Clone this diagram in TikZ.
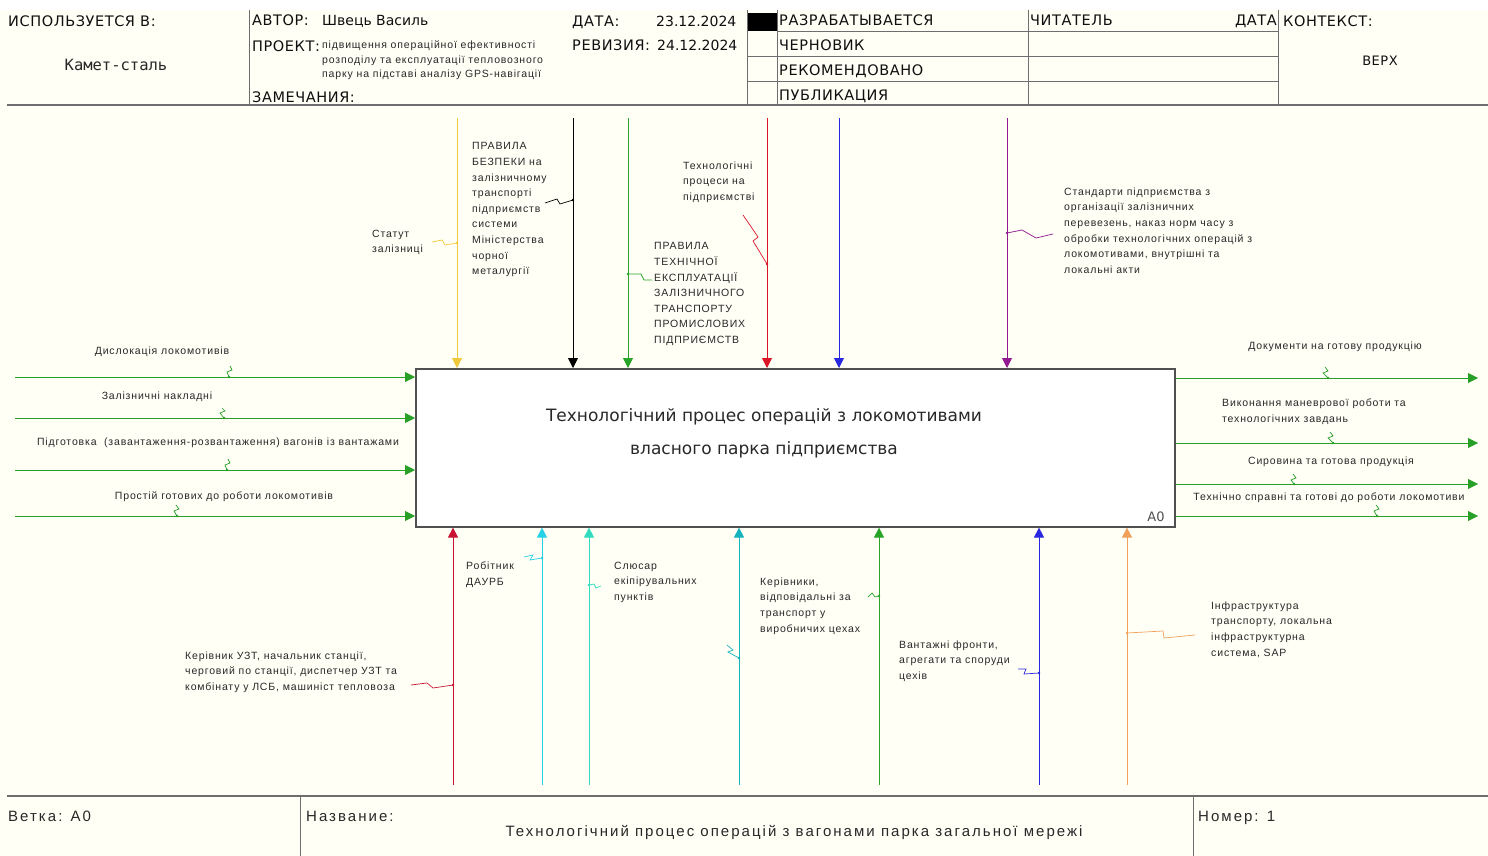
\documentclass[tikz,border=0pt]{standalone}
\usepackage{fontspec}
\setmainfont{Liberation Sans}
\newfontfamily\hdrfont[LetterSpace=4]{DejaVu Sans}
\newfontfamily\plainfont{DejaVu Sans}
\newfontfamily\monofont{DejaVu Sans Mono}
\newfontfamily\lblfont[LetterSpace=8]{Liberation Sans}
\newfontfamily\footfont[LetterSpace=13.5]{Liberation Sans}
\usetikzlibrary{arrows.meta}
\definecolor{cream}{RGB}{255,255,246}
\definecolor{framegray}{RGB}{110,110,110}
\definecolor{boxgray}{RGB}{80,80,80}
\definecolor{txtgray}{RGB}{40,40,40}
\definecolor{hdrblack}{RGB}{15,15,15}
\definecolor{cYellow}{RGB}{240,200,60}
\definecolor{cGreen}{RGB}{40,165,40}
\definecolor{cRed}{RGB}{220,20,40}
\definecolor{cBlue}{RGB}{40,40,225}
\definecolor{cPurple}{RGB}{145,25,145}
\definecolor{cIn}{RGB}{40,160,40}
\definecolor{cCrimson}{RGB}{200,20,50}
\definecolor{cCyan}{RGB}{40,210,230}
\definecolor{cAqua}{RGB}{50,220,190}
\definecolor{cTeal}{RGB}{20,180,190}
\definecolor{cOrange}{RGB}{240,160,90}
\begin{document}
\begin{tikzpicture}[x=1pt,y=-1pt,
  frame/.style={draw=framegray,line width=1pt},
  thickframe/.style={draw=framegray,line width=2pt},
  hdrtxt/.style={font=\hdrfont\fontsize{14.5}{16}\selectfont,anchor=base west,inner sep=0,text=hdrblack},
  plaintxt/.style={font=\plainfont\fontsize{14}{16}\selectfont,anchor=base west,inner sep=0,text=hdrblack},
  smalltxt/.style={font=\lblfont\fontsize{10.5}{14.7}\selectfont,anchor=north west,inner sep=0,align=left,text=txtgray},
  lbltxt/.style={font=\lblfont\fontsize{10.5}{15.6}\selectfont,anchor=north west,inner sep=0,align=left,text=txtgray},
  lblc/.style={font=\lblfont\fontsize{10.5}{15.6}\selectfont,anchor=center,inner sep=0,text=txtgray},
  foottxt/.style={font=\footfont\fontsize{15}{17}\selectfont,anchor=base west,inner sep=0,text=txtgray},
  flow/.style={line width=0.9pt,-{Triangle[width=10pt,length=10pt]}},
  sq/.style={line width=0.7pt},
]
\useasboundingbox (0,0) rectangle (1488,856);
\fill[white] (0,0) rectangle (1488,856);
\fill[cream] (0,10) rectangle (1488,856);

% ---------- header ----------
\draw[thickframe] (7,105.5) -- (1488,105.5);
\draw[frame] (249,10) -- (249,105);
\draw[frame] (747.5,10) -- (747.5,105);
\draw[frame] (777,10) -- (777,105);
\draw[frame] (1028,10) -- (1028,105);
\draw[frame] (1278,10) -- (1278,105);
\draw[frame] (777,32) -- (1278,32);
\draw[frame] (747.5,57) -- (1278,57);
\draw[frame] (747.5,82) -- (1278,82);
\fill[black] (748,13) rectangle (777,31);

\node[hdrtxt] (usedin) at (8,26.5) {ИСПОЛЬЗУЕТСЯ В:};
\node[font=\monofont\fontsize{15.5}{17}\selectfont,inner sep=0,anchor=base,text=txtgray] (usedval) at (116,71) {Камет-сталь};
\node[hdrtxt] (author) at (252,25.5) {АВТОР:};
\node[plaintxt] (authorv) at (322,25.5) {Швець Василь};
\node[hdrtxt] (project) at (252,52) {ПРОЕКТ:};
\node[smalltxt] (projectv) at (322,40.5) {підвищення операційної ефективності\\розподілу та експлуатації тепловозного\\парку на підставі аналізу GPS-навігації};
\node[hdrtxt] (notes) at (252,102.5) {ЗАМЕЧАНИЯ:};
\node[hdrtxt] (date) at (572,27) {ДАТА:};
\node[plaintxt] (datev) at (656,27) {23.12.2024};
\node[hdrtxt] (rev) at (572,51) {РЕВИЗИЯ:};
\node[plaintxt] (revv) at (657,51) {24.12.2024};
\node[hdrtxt] (st1) at (779,26) {РАЗРАБАТЫВАЕТСЯ};
\node[hdrtxt] (st2) at (779,50.5) {ЧЕРНОВИК};
\node[hdrtxt] (st3) at (779,76) {РЕКОМЕНДОВАНО};
\node[hdrtxt] (st4) at (779,100.5) {ПУБЛИКАЦИЯ};
\node[hdrtxt] (reader) at (1030,25.5) {ЧИТАТЕЛЬ};
\node[hdrtxt,anchor=base east] (rdate) at (1277,25.5) {ДАТА};
\node[hdrtxt] (context) at (1283,27) {КОНТЕКСТ:};
\node[hdrtxt,anchor=base,font=\hdrfont\fontsize{13}{15}\selectfont] (top) at (1380,65.5) {ВЕРХ};

% ---------- main box ----------
\node[draw=boxgray,line width=1.6pt,fill=white,minimum width=759pt,minimum height=158pt,inner sep=0,anchor=north west] (box) at (415,368) {};
\node[font=\plainfont\fontsize{17}{33}\selectfont,align=center,inner sep=0,text=txtgray] (boxtxt) at (764,433) {Технологічний процес операцій з локомотивами\\власного парка підприємства};
\node[font=\plainfont\fontsize{13}{15}\selectfont,text=boxgray,inner sep=0] (a0) at (1156,517) {A0};

% ---------- controls (top) ----------
\coordinate (t1) at (457,118);
\coordinate (t2) at (573,118);
\coordinate (t3) at (628,118);
\coordinate (t4) at (767,118);
\coordinate (t5) at (839,118);
\coordinate (t6) at (1007,118);
\draw[flow,cYellow] (t1) -- (t1 |- box.north);
\draw[flow,black] (t2) -- (t2 |- box.north);
\draw[flow,cGreen] (t3) -- (t3 |- box.north);
\draw[flow,cRed] (t4) -- (t4 |- box.north);
\draw[flow,cBlue] (t5) -- (t5 |- box.north);
\draw[flow,cPurple] (t6) -- (t6 |- box.north);

\node[lbltxt] (c1) at (372,229.5) {Статут\\залізниці};
\node[lbltxt] (c2) at (472,142.5) {ПРАВИЛА\\БЕЗПЕКИ на\\залізничному\\транспорті\\підприємств\\системи\\Міністерства\\чорної\\металургії};
\node[lbltxt] (c3) at (683,161.5) {Технологічні\\процеси на\\підприємстві};
\node[lbltxt] (c4) at (654,242.5) {ПРАВИЛА\\ТЕХНІЧНОЇ\\ЕКСПЛУАТАЦІЇ\\ЗАЛІЗНИЧНОГО\\ТРАНСПОРТУ\\ПРОМИСЛОВИХ\\ПІДПРИЄМСТВ};
\node[lbltxt] (c5) at (1064,187.5) {Стандарти підприємства з\\організації залізничних\\перевезень, наказ норм часу з\\обробки технологічних операцій з\\локомотивами, внутрішні та\\локальні акти};

\draw[sq,cYellow] (432,242) -- (442,240) -- (445,245) -- (457,243);
\fill[cYellow] (457,243) circle (1.4);
\draw[sq,black] (545,203) -- (557,199) -- (560,204) -- (573,200);
\fill[black] (573,200) circle (1.4);
\draw[sq,cRed] (743,215) -- (758,237) -- (753,241) -- (767,264);
\fill[cRed] (767,264) circle (1.4);
\draw[sq,cGreen] (628,274) -- (641,274) -- (644,280) -- (652,280);
\fill[cGreen] (628,274) circle (1.4);
\draw[sq,cPurple] (1007,233) -- (1022,230) -- (1036,238) -- (1053,234);
\fill[cPurple] (1007,233) circle (1.4);

% ---------- inputs (left) ----------
\coordinate (i1) at (15,377);
\coordinate (i2) at (15,418);
\coordinate (i3) at (15,470);
\coordinate (i4) at (15,516);
\foreach \n in {i1,i2,i3,i4} \draw[flow,cIn] (\n) -- (\n -| box.west);
\node[lblc] (in1) at (162,352) {Дислокація локомотивів};
\node[lblc] (in2) at (157,397) {Залізничні накладні};
\node[lblc] (in3) at (218,443) {Підготовка\ \ (завантаження-розвантаження) вагонів із вантажами};
\node[lblc] (in4) at (224,497) {Простій готових до роботи локомотивів};
\draw[sq,cIn] (230,366) -- (232,370) -- (227,372) -- (229,377);
\fill[cIn] (229,377) circle (1.4);
\draw[sq,cIn] (222,408) -- (225,411) -- (220,413) -- (224,418);
\fill[cIn] (224,418) circle (1.4);
\draw[sq,cIn] (228,459) -- (230,463) -- (225,465) -- (227,470);
\fill[cIn] (227,470) circle (1.4);
\draw[sq,cIn] (176,505) -- (179,509) -- (174,511) -- (177,516);
\fill[cIn] (177,516) circle (1.4);

% ---------- outputs (right) ----------
\coordinate (o1) at (1478,378);
\coordinate (o2) at (1478,443);
\coordinate (o3) at (1478,484);
\coordinate (o4) at (1478,516);
\foreach \n in {o1,o2,o3,o4} \draw[flow,cIn] (\n -| box.east) -- (\n);
\node[lblc] (out1) at (1335,347) {Документи на готову продукцію};
\node[lbltxt] (out2) at (1222,398.5) {Виконання маневрової роботи та\\технологічних завдань};
\node[lblc] (out3) at (1331,462) {Сировина та готова продукція};
\node[lblc] (out4) at (1329,498) {Технічно справні та готові до роботи локомотиви};
\draw[sq,cIn] (1325,367) -- (1328,371) -- (1323,373) -- (1328,378);
\fill[cIn] (1328,378) circle (1.4);
\draw[sq,cIn] (1330,432) -- (1333,436) -- (1328,438) -- (1333,443);
\fill[cIn] (1333,443) circle (1.4);
\draw[sq,cIn] (1293,474) -- (1296,478) -- (1291,480) -- (1294,484);
\fill[cIn] (1294,484) circle (1.4);
\draw[sq,cIn] (1376,505) -- (1379,509) -- (1374,511) -- (1377,516);
\fill[cIn] (1377,516) circle (1.4);

% ---------- mechanisms (bottom) ----------
\coordinate (m1) at (453,785);
\coordinate (m2) at (542,785);
\coordinate (m3) at (589,785);
\coordinate (m4) at (739,785);
\coordinate (m5) at (879,785);
\coordinate (m6) at (1039,785);
\coordinate (m7) at (1127,785);
\draw[flow,cCrimson] (m1) -- (m1 |- box.south);
\draw[flow,cCyan] (m2) -- (m2 |- box.south);
\draw[flow,cAqua] (m3) -- (m3 |- box.south);
\draw[flow,cTeal] (m4) -- (m4 |- box.south);
\draw[flow,cGreen] (m5) -- (m5 |- box.south);
\draw[flow,cBlue] (m6) -- (m6 |- box.south);
\draw[flow,cOrange] (m7) -- (m7 |- box.south);

\node[lbltxt] (me1) at (185,651.5) {Керівник УЗТ, начальник станції,\\черговий по станції, диспетчер УЗТ та\\комбінату у ЛСБ, машиніст тепловоза};
\node[lbltxt] (me2) at (466,561.5) {Робітник\\ДАУРБ};
\node[lbltxt] (me3) at (614,561.5) {Слюсар\\екіпірувальних\\пунктів};
\node[lbltxt] (me4) at (760,577.5) {Керівники,\\відповідальні за\\транспорт у\\виробничих цехах};
\node[lbltxt] (me5) at (899,640.5) {Вантажні фронти,\\агрегати та споруди\\цехів};
\node[lbltxt] (me6) at (1211,601.5) {Інфраструктура\\транспорту, локальна\\інфраструктурна\\система, SAP};

\draw[sq,cCrimson] (411,685) -- (427,683) -- (433,688) -- (453,685);
\fill[cCrimson] (453,685) circle (1.4);
\draw[sq,cCyan] (524,557) -- (533,555) -- (530,560) -- (542,558);
\fill[cCyan] (542,558) circle (1.4);
\draw[sq,cAqua] (589,585) -- (594,584) -- (596,588) -- (601,586);
\fill[cAqua] (589,585) circle (1.4);
\draw[sq,cTeal] (727,645) -- (733,650) -- (728,652) -- (739,658);
\fill[cTeal] (739,658) circle (1.4);
\draw[sq,cGreen] (868,597) -- (872,593) -- (875,597) -- (879,596);
\fill[cGreen] (879,596) circle (1.4);
\draw[sq,cBlue] (1018,669) -- (1026,669) -- (1024,674) -- (1039,673);
\fill[cBlue] (1039,673) circle (1.4);
\draw[sq,cOrange] (1127,633) -- (1163,631) -- (1164,638) -- (1195,635);
\fill[cOrange] (1127,633) circle (1.4);

% ---------- footer ----------
\draw[thickframe] (7,795.5) -- (1488,795.5);
\draw[frame] (300,795.5) -- (300,856);
\draw[frame] (1193,795.5) -- (1193,856);
\node[foottxt] (branch) at (8,821) {Ветка: A0};
\node[foottxt] (name) at (306,821) {Название:};
\node[foottxt] (number) at (1198,821) {Номер: 1};
\node[foottxt,anchor=base] (title) at (794,836) {Технологічний процес операцій з вагонами парка загальної мережі};
\end{tikzpicture}
\end{document}
